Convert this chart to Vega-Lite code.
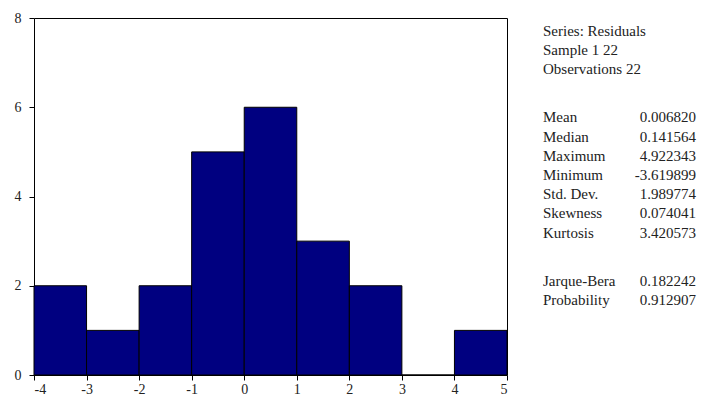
{
  "$schema": "https://vega.github.io/schema/vega-lite/v6.json",
  "padding": {"left": 5, "top": 10, "right": 5, "bottom": 5},
  "background": "white",
  "config": {
    "font": "Liberation Serif",
    "view": {"stroke": "black", "strokeWidth": 1},
    "axis": {"labelFont": "Liberation Serif", "labelFontSize": 14, "labelColor": "#222", "tickColor": "black", "domain": false, "grid": false, "tickSize": 5, "tickWidth": 1, "labelExpr": "'' + datum.value"}
  },
  "hconcat": [
    {
      "width": 473,
      "height": 357,
      "data": {"values": [
        {"lo": -4, "hi": -3, "count": 2},
        {"lo": -3, "hi": -2, "count": 1},
        {"lo": -2, "hi": -1, "count": 2},
        {"lo": -1, "hi": 0, "count": 5},
        {"lo": 0, "hi": 1, "count": 6},
        {"lo": 1, "hi": 2, "count": 3},
        {"lo": 2, "hi": 3, "count": 2},
        {"lo": 3, "hi": 4, "count": 0},
        {"lo": 4, "hi": 5, "count": 1}
      ]},
      "mark": {"type": "rect", "fill": "#000080", "stroke": "black", "strokeWidth": 1},
      "encoding": {
        "x": {"field": "lo", "type": "quantitative", "scale": {"domain": [-4, 5], "nice": false, "zero": false},
              "axis": {"title": null, "values": [-4, -3, -2, -1, 0, 1, 2, 3, 4, 5], "labelPadding": 2}},
        "x2": {"field": "hi"},
        "y": {"field": "count", "type": "quantitative", "scale": {"domain": [0, 8], "nice": false},
              "axis": {"title": null, "values": [0, 2, 4, 6, 8], "minExtent": 28, "maxExtent": 28, "labelPadding": 8}},
        "y2": {"datum": 0}
      }
    },
    {
      "width": 153,
      "height": 357,
      "view": {"stroke": null},
      "data": {"values": [
        {"row": 0, "label": "Series: Residuals", "value": ""},
        {"row": 1, "label": "Sample 1 22", "value": ""},
        {"row": 2, "label": "Observations 22", "value": ""},
        {"row": 4.5, "label": "Mean", "value": "0.006820"},
        {"row": 5.5, "label": "Median", "value": "0.141564"},
        {"row": 6.5, "label": "Maximum", "value": "4.922343"},
        {"row": 7.5, "label": "Minimum", "value": "-3.619899"},
        {"row": 8.5, "label": "Std. Dev.", "value": "1.989774"},
        {"row": 9.5, "label": "Skewness", "value": "0.074041"},
        {"row": 10.5, "label": "Kurtosis", "value": "3.420573"},
        {"row": 13, "label": "Jarque-Bera", "value": "0.182242"},
        {"row": 14, "label": "Probability", "value": "0.912907"}
      ]},
      "layer": [
        {
          "mark": {"type": "text", "align": "left", "baseline": "middle", "fontSize": 15, "font": "Liberation Serif", "color": "#222"},
          "encoding": {
            "x": {"datum": 0, "type": "quantitative", "scale": {"domain": [0, 1], "nice": false}, "axis": null},
            "y": {"field": "row", "type": "quantitative", "scale": {"domain": [-0.68, 17.92], "nice": false, "zero": false, "reverse": true}, "axis": null},
            "text": {"field": "label"}
          }
        },
        {
          "mark": {"type": "text", "align": "right", "baseline": "middle", "fontSize": 15, "font": "Liberation Serif", "color": "#222"},
          "encoding": {
            "x": {"datum": 1, "type": "quantitative", "scale": {"domain": [0, 1], "nice": false}, "axis": null},
            "y": {"field": "row", "type": "quantitative", "scale": {"domain": [-0.68, 17.92], "nice": false, "zero": false, "reverse": true}, "axis": null},
            "text": {"field": "value"}
          }
        }
      ]
    }
  ],
  "spacing": 35
}
